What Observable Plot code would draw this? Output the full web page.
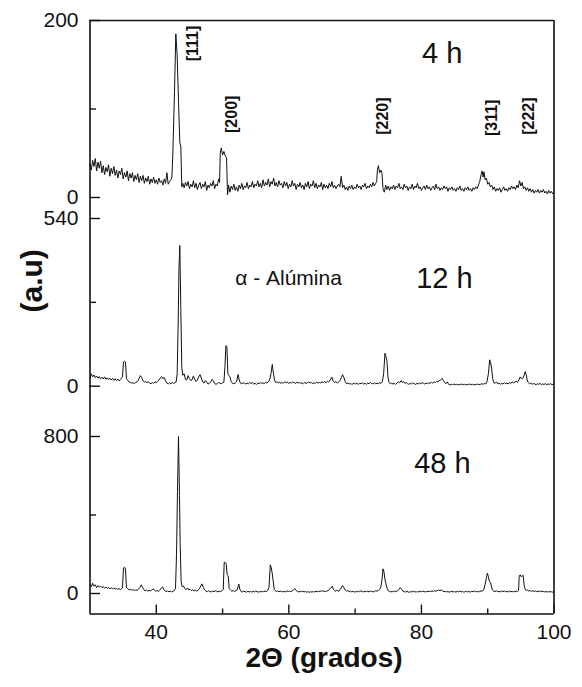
<!DOCTYPE html>
<html><head><meta charset="utf-8">
<script src="https://cdn.jsdelivr.net/npm/d3@7"></script>
<script src="https://cdn.jsdelivr.net/npm/@observablehq/plot@0.6"></script>
<style>
body{margin:0;background:#fff}
#chart svg{display:block}
g[aria-label="panel-label"] text{letter-spacing:3px}
g[aria-label="phase-label"] text{letter-spacing:2.5px}
g[aria-label="x-title"] text{letter-spacing:1.5px}
</style></head><body><div id="chart"></div>
<script>
// ---- data: [2theta, intensity (a.u.)] ----
const xrd4h = [
[30.0,38],[30.2,31],[30.4,42],[30.6,35],[30.8,44],[31.0,30],[31.2,40],[31.4,33],[31.6,41],[31.8,28],
[32.0,36],[32.2,26],[32.4,34],[32.6,29],[32.8,37],[33.0,24],[33.2,33],[33.4,27],[33.6,35],[33.8,25],
[34.0,31],[34.2,22],[34.4,30],[34.6,26],[34.8,33],[35.0,21],[35.2,28],[35.4,23],[35.6,30],[35.8,19],
[36.0,27],[36.2,22],[36.4,28],[36.6,18],[36.8,25],[37.0,20],[37.2,27],[37.4,17],[37.6,24],[37.8,19],
[38.0,25],[38.2,16],[38.4,22],[38.6,18],[38.8,24],[39.0,15],[39.2,21],[39.4,17],[39.6,23],[39.8,16],
[40.0,20],[40.2,15],[40.4,22],[40.6,17],[40.8,19],[41.0,14],[41.2,21],[41.4,16],[41.6,28],[41.8,15],
[42.0,18],[42.2,20],[42.35,22],[42.5,50],[42.75,120],[42.95,185],[43.15,160],[43.35,110],[43.55,62],[43.7,58],[43.85,12],
[44.0,16],[44.2,11],[44.4,17],[44.6,13],[44.8,18],[45.0,10],[45.2,15],[45.4,12],[45.6,19],[45.8,11],
[46.0,16],[46.2,9],[46.4,14],[46.6,17],[46.8,10],[47.0,15],[47.2,12],[47.4,18],[47.6,8],[47.8,14],
[48.0,11],[48.2,16],[48.4,13],[48.6,19],[48.8,10],[49.0,15],[49.2,13],[49.4,21],[49.55,17],
[49.65,50],[49.8,56],[50.0,48],[50.2,52],[50.4,47],[50.6,45],[50.75,3],
[50.9,14],[51.1,6],[51.3,13],[51.5,9],[51.7,15],[51.9,8],[52.1,12],[52.3,7],[52.5,14],[52.7,10],
[52.9,16],[53.1,9],[53.3,13],[53.5,11],[53.7,17],[53.9,10],[54.1,14],[54.3,12],[54.5,18],[54.7,11],
[54.9,15],[55.1,13],[55.3,19],[55.5,12],[55.7,16],[55.9,11],[56.1,20],[56.3,13],[56.5,17],[56.7,14],
[56.9,21],[57.1,12],[57.3,18],[57.5,15],[57.7,22],[57.9,13],[58.1,17],[58.3,12],[58.5,19],[58.7,14],
[58.9,16],[59.1,11],[59.3,18],[59.5,13],[59.7,17],[59.9,10],[60.1,15],[60.3,12],[60.5,19],[60.7,13],
[60.9,16],[61.1,9],[61.3,15],[61.5,12],[61.7,17],[61.9,11],[62.1,14],[62.3,9],[62.5,16],[62.7,12],
[62.9,18],[63.1,10],[63.3,15],[63.5,13],[63.7,19],[63.9,11],[64.1,16],[64.3,10],[64.5,14],[64.7,12],
[64.9,17],[65.1,9],[65.3,15],[65.5,11],[65.7,14],[65.9,10],[66.1,16],[66.3,12],[66.5,18],[66.7,11],
[66.9,14],[67.1,10],[67.3,13],[67.5,15],[67.7,12],[67.9,24],[68.1,11],[68.3,14],[68.5,9],[68.7,12],
[68.9,8],[69.1,13],[69.3,10],[69.5,14],[69.7,9],[69.9,12],[70.1,10],[70.3,15],[70.5,11],[70.7,13],
[70.9,9],[71.1,14],[71.3,12],[71.5,16],[71.7,10],[71.9,13],[72.1,11],[72.3,15],[72.5,12],[72.7,17],
[72.9,13],[73.1,16],[73.25,18],[73.35,30],[73.5,36],[73.7,28],[73.9,31],[74.05,27],[74.2,10],
[74.4,6],[74.6,14],[74.8,9],[75.0,13],[75.2,8],[75.4,12],[75.6,10],[75.8,14],[76.0,9],[76.2,13],
[76.4,11],[76.6,16],[76.8,10],[77.0,12],[77.2,9],[77.4,15],[77.6,11],[77.8,13],[78.0,8],[78.2,12],
[78.4,10],[78.6,15],[78.8,9],[79.0,13],[79.2,11],[79.4,16],[79.6,10],[79.8,12],[80.0,8],[80.2,11],
[80.4,13],[80.6,9],[80.8,14],[81.0,10],[81.2,12],[81.4,8],[81.6,11],[81.8,13],[82.0,9],[82.2,15],
[82.4,10],[82.6,12],[82.8,8],[83.0,11],[83.2,9],[83.4,13],[83.6,10],[83.8,12],[84.0,7],[84.2,11],
[84.4,9],[84.6,12],[84.8,8],[85.0,10],[85.2,7],[85.4,11],[85.6,9],[85.8,13],[86.0,8],[86.2,10],
[86.4,7],[86.6,11],[86.8,9],[87.0,12],[87.2,8],[87.4,10],[87.6,7],[87.8,11],[88.0,9],[88.2,12],
[88.4,10],[88.6,14],[88.8,18],[89.0,26],[89.15,30],[89.3,23],[89.45,29],[89.6,20],[89.8,22],[90.0,15],
[90.2,17],[90.4,12],[90.6,14],[90.8,9],[91.0,12],[91.2,7],[91.4,10],[91.6,8],[91.8,11],[92.0,6],
[92.2,9],[92.4,12],[92.6,8],[92.8,10],[93.0,7],[93.2,11],[93.4,9],[93.6,13],[93.8,10],[94.0,12],
[94.2,9],[94.4,14],[94.6,11],[94.8,19],[95.0,13],[95.2,17],[95.4,10],[95.6,12],[95.8,8],[96.0,11],
[96.2,7],[96.4,10],[96.6,6],[96.8,9],[97.0,5],[97.2,8],[97.4,6],[97.6,9],[97.8,5],[98.0,8],
[98.2,6],[98.4,9],[98.6,5],[98.8,7],[99.0,4],[99.2,8],[99.4,5],[99.6,7],[99.8,4],[100.0,6]
];

const xrd12h = [
[30.0,25],[30.2,40],[30.4,30],[30.6,36],[30.8,28],[31.0,33],[31.2,26],[31.4,31],[31.6,24],[31.8,29],
[32.0,23],[32.2,30],[32.4,22],[32.6,27],[32.8,21],[33.0,26],[33.2,20],[33.4,25],[33.6,19],[33.8,24],
[34.0,18],[34.2,23],[34.4,17],[34.6,22],[34.9,30],[35.05,78],[35.2,80],[35.35,78],[35.5,25],[35.7,18],
[35.9,14],[36.1,12],[36.3,10],[36.5,11],[36.7,9],[36.9,12],[37.1,14],[37.3,20],[37.6,34],[37.8,28],
[38.0,18],[38.2,13],[38.4,15],[38.6,11],[38.8,14],[39.0,10],[39.2,8],[39.4,12],[39.6,9],[39.8,14],
[40.0,11],[40.2,16],[40.4,20],[40.6,26],[40.8,31],[41.0,24],[41.2,28],[41.4,17],[41.6,10],[41.8,7],
[42.0,11],[42.2,8],[42.4,12],[42.6,9],[42.8,11],[43.0,14],[43.15,40],[43.3,200],[43.42,380],[43.55,453],
[43.7,250],[43.85,60],[44.0,35],[44.2,40],[44.4,22],[44.6,20],[44.8,34],[45.0,25],[45.2,18],[45.4,21],
[45.6,33],[45.8,22],[46.0,15],[46.2,20],[46.4,30],[46.6,37],[46.8,26],[47.0,14],[47.2,10],[47.4,18],
[47.6,13],[47.8,7],[48.0,9],[48.2,14],[48.4,22],[48.6,18],[48.8,9],[49.0,6],[49.2,8],[49.4,12],
[49.6,10],[49.8,8],[50.0,11],[50.2,13],[50.35,60],[50.5,131],[50.65,128],[50.8,40],[50.95,35],[51.1,30],
[51.3,15],[51.5,9],[51.7,8],[51.9,10],[52.1,14],[52.35,38],[52.5,20],[52.7,10],[52.9,8],[53.1,11],
[53.3,9],[53.5,7],[53.7,10],[53.9,8],[54.1,12],[54.3,9],[54.5,11],[54.7,7],[54.9,9],[55.1,6],
[55.3,10],[55.5,8],[55.7,12],[55.9,9],[56.1,11],[56.3,8],[56.5,13],[56.7,10],[56.9,14],[57.1,20],
[57.3,40],[57.5,70],[57.65,45],[57.85,18],[58.0,12],[58.2,15],[58.4,10],[58.6,13],[58.8,9],[59.0,12],
[59.2,10],[59.4,14],[59.6,11],[59.8,13],[60.0,9],[60.2,12],[60.4,10],[60.6,14],[60.8,11],[61.0,9],
[61.2,13],[61.4,10],[61.6,12],[61.8,9],[62.0,11],[62.2,8],[62.4,12],[62.6,9],[62.8,11],[63.0,14],
[63.2,10],[63.4,12],[63.6,8],[63.8,11],[64.0,9],[64.2,13],[64.4,10],[64.6,12],[64.8,11],[65.0,14],
[65.2,12],[65.4,15],[65.6,11],[65.8,16],[66.0,14],[66.2,18],[66.5,29],[66.7,16],[66.9,12],[67.1,15],
[67.3,10],[67.5,13],[67.7,18],[67.9,27],[68.1,37],[68.3,28],[68.5,15],[68.7,8],[68.9,10],[69.1,7],
[69.3,9],[69.5,6],[69.7,8],[69.9,10],[70.1,7],[70.3,9],[70.5,6],[70.7,10],[70.9,8],[71.1,11],
[71.3,7],[71.5,9],[71.7,6],[71.9,10],[72.1,8],[72.3,12],[72.5,9],[72.7,7],[72.9,11],[73.1,8],
[73.3,10],[73.5,7],[73.7,12],[73.9,9],[74.1,14],[74.3,40],[74.5,106],[74.65,95],[74.8,80],[74.95,30],
[75.1,12],[75.3,8],[75.5,10],[75.7,7],[75.9,9],[76.1,6],[76.3,10],[76.5,14],[76.7,11],[76.95,18],
[77.1,12],[77.3,15],[77.5,9],[77.7,12],[77.9,8],[78.1,6],[78.3,9],[78.5,7],[78.7,11],[78.9,8],
[79.1,6],[79.3,9],[79.5,7],[79.7,10],[79.9,8],[80.1,12],[80.3,9],[80.5,7],[80.7,10],[80.9,8],
[81.1,11],[81.3,9],[81.5,13],[81.7,10],[81.9,14],[82.1,12],[82.3,16],[82.5,14],[82.7,18],[82.9,20],
[83.15,25],[83.3,19],[83.5,12],[83.7,8],[83.9,14],[84.1,6],[84.3,4],[84.5,6],[84.7,5],[84.9,7],
[85.1,5],[85.3,6],[85.5,4],[85.7,6],[85.9,5],[86.1,7],[86.3,5],[86.5,6],[86.7,4],[86.9,6],
[87.1,5],[87.3,7],[87.5,5],[87.7,6],[87.9,4],[88.1,6],[88.3,5],[88.5,7],[88.7,5],[88.9,6],
[89.1,8],[89.3,6],[89.5,9],[89.7,7],[89.9,15],[90.1,40],[90.3,85],[90.45,75],[90.6,55],[90.75,25],
[90.9,12],[91.1,9],[91.3,14],[91.5,8],[91.7,10],[91.9,6],[92.1,9],[92.3,7],[92.5,11],[92.7,8],
[92.9,10],[93.1,7],[93.3,12],[93.5,9],[93.7,14],[93.9,11],[94.1,13],[94.3,16],[94.5,12],[94.7,20],
[94.9,30],[95.1,24],[95.3,26],[95.5,35],[95.65,47],[95.8,38],[95.95,20],[96.1,12],[96.3,8],[96.5,10],
[96.7,6],[96.9,9],[97.1,7],[97.3,5],[97.5,8],[97.7,6],[97.9,9],[98.1,5],[98.3,7],[98.5,6],
[98.7,8],[98.9,5],[99.1,7],[99.3,6],[99.5,8],[99.7,5],[99.9,7],[100.0,6]
];

const xrd48h = [
[30.0,45],[30.2,35],[30.4,52],[30.6,38],[30.8,44],[31.0,30],[31.2,40],[31.4,33],[31.6,37],[31.8,30],
[32.0,34],[32.2,28],[32.4,33],[32.6,27],[32.8,30],[33.0,25],[33.2,29],[33.4,24],[33.6,28],[33.8,22],
[34.0,26],[34.2,21],[34.4,25],[34.6,20],[34.9,28],[35.05,130],[35.2,134],[35.35,125],[35.5,30],[35.7,24],
[35.9,18],[36.1,22],[36.3,17],[36.5,20],[36.7,15],[36.9,19],[37.1,16],[37.3,22],[37.5,30],[37.75,44],
[37.95,30],[38.1,20],[38.3,14],[38.5,18],[38.7,12],[38.9,16],[39.1,13],[39.3,17],[39.5,24],[39.7,18],
[39.9,12],[40.1,15],[40.3,11],[40.5,16],[40.7,24],[40.95,34],[41.1,22],[41.3,14],[41.5,10],[41.7,13],
[41.9,9],[42.1,12],[42.3,8],[42.5,11],[42.7,14],[42.9,25],[43.05,200],[43.2,520],[43.35,800],[43.5,500],
[43.6,255],[43.75,60],[43.9,35],[44.1,38],[44.3,25],[44.5,20],[44.7,28],[44.9,18],[45.1,22],[45.3,15],
[45.5,19],[45.7,13],[45.9,17],[46.1,12],[46.3,16],[46.5,25],[46.7,38],[46.9,49],[47.1,30],[47.3,18],
[47.5,12],[47.7,9],[47.9,14],[48.1,10],[48.3,8],[48.5,12],[48.7,9],[48.9,14],[49.1,11],[49.3,8],
[49.5,12],[49.7,10],[49.9,14],[50.1,20],[50.25,160],[50.4,158],[50.55,150],[50.7,95],[50.85,90],[51.0,25],
[51.2,18],[51.4,12],[51.6,15],[51.8,10],[52.0,14],[52.2,18],[52.45,48],[52.6,22],[52.8,10],[53.0,8],
[53.2,12],[53.4,9],[53.6,7],[53.8,11],[54.0,8],[54.2,10],[54.4,7],[54.6,11],[54.8,8],[55.0,12],
[55.2,9],[55.4,7],[55.6,10],[55.8,8],[56.0,11],[56.2,9],[56.4,12],[56.6,10],[56.8,15],[57.0,30],
[57.2,146],[57.35,130],[57.5,100],[57.65,60],[57.8,20],[57.95,14],[58.1,10],[58.3,13],[58.5,9],[58.7,12],
[58.9,10],[59.1,8],[59.3,11],[59.5,9],[59.7,13],[59.9,10],[60.1,12],[60.3,9],[60.5,14],[60.7,18],
[60.9,25],[61.1,15],[61.3,10],[61.5,8],[61.7,11],[61.9,9],[62.1,12],[62.3,8],[62.5,10],[62.7,7],
[62.9,9],[63.1,6],[63.3,9],[63.5,7],[63.7,10],[63.9,8],[64.1,11],[64.3,9],[64.5,12],[64.7,10],
[64.9,14],[65.1,11],[65.3,13],[65.5,10],[65.7,12],[65.9,15],[66.1,20],[66.3,28],[66.55,37],[66.7,22],
[66.9,15],[67.1,11],[67.3,18],[67.5,10],[67.7,20],[67.9,28],[68.1,41],[68.3,30],[68.5,18],[68.7,12],
[68.9,15],[69.1,9],[69.3,12],[69.5,8],[69.7,11],[69.9,7],[70.1,10],[70.3,8],[70.5,12],[70.7,9],
[70.9,14],[71.1,10],[71.3,8],[71.5,12],[71.7,9],[71.9,11],[72.1,8],[72.3,13],[72.5,10],[72.7,8],
[72.9,11],[73.1,14],[73.3,12],[73.5,16],[73.7,20],[73.9,35],[74.05,70],[74.2,126],[74.35,110],[74.5,70],
[74.65,50],[74.8,28],[75.0,14],[75.2,10],[75.4,8],[75.6,11],[75.8,9],[76.0,13],[76.2,10],[76.4,14],
[76.6,20],[76.8,30],[77.0,22],[77.2,12],[77.4,10],[77.6,7],[77.8,11],[78.0,8],[78.2,6],[78.4,10],
[78.6,8],[78.8,12],[79.0,9],[79.2,7],[79.4,10],[79.6,8],[79.8,11],[80.0,9],[80.2,12],[80.4,10],
[80.6,8],[80.8,11],[81.0,9],[81.2,12],[81.4,10],[81.6,13],[81.8,11],[82.0,14],[82.2,12],[82.4,15],
[82.6,18],[82.8,14],[83.0,19],[83.2,12],[83.4,9],[83.6,11],[83.8,8],[84.0,10],[84.2,7],[84.4,9],
[84.6,11],[84.8,8],[85.0,10],[85.2,7],[85.4,11],[85.6,9],[85.8,12],[86.0,8],[86.2,10],[86.4,7],
[86.6,9],[86.8,12],[87.0,8],[87.2,10],[87.4,7],[87.6,11],[87.8,9],[88.0,13],[88.2,10],[88.4,8],
[88.6,12],[88.8,9],[89.0,14],[89.2,12],[89.4,20],[89.6,45],[89.8,80],[89.95,104],[90.1,85],[90.25,62],
[90.4,58],[90.55,40],[90.7,18],[90.9,12],[91.1,10],[91.3,14],[91.5,9],[91.7,11],[91.9,8],[92.1,12],
[92.3,10],[92.5,13],[92.7,9],[92.9,11],[93.1,8],[93.3,12],[93.5,10],[93.7,9],[93.9,11],[94.1,8],
[94.3,12],[94.5,10],[94.65,14],[94.75,88],[94.9,95],[95.05,85],[95.2,90],[95.35,92],[95.5,40],[95.65,22],
[95.8,15],[96.0,18],[96.2,12],[96.4,16],[96.6,10],[96.8,14],[97.0,11],[97.2,13],[97.4,9],[97.6,12],
[97.8,10],[98.0,13],[98.2,9],[98.4,11],[98.6,8],[98.8,10],[99.0,7],[99.2,10],[99.4,8],[99.6,9],
[99.8,7],[100.0,8]
];

const panelNames = ["4 h", "12 h", "48 h"];
const yMax = [200, 540, 800];
const xTicksMajor = [40, 60, 80, 100];
const xTicksMinor = [50, 70, 90];
const hklLabels = ["[111]", "[200]", "[220]", "[311]", "[222]"];
const phaseLabel = "\u03b1 - Al\u00famina";
const xTitle = "2\u0398 (grados)";
const yTitle = "(a.u)";

// ---- layout ----
const W = 582, ML = 89.5, MR = 28.5;
const xDomain = [30, 100];
const pxPerX = (W - ML - MR) / (xDomain[1] - xDomain[0]);
const FONT = "'Liberation Sans', Arial, Helvetica, sans-serif";
const INK = "#111";

function makePanel({series, max, height, marginTop, marginBottom, zeroPx, maxPx, extra, showX}) {
  const s = (zeroPx - maxPx) / max;                // px per unit
  const yDomain = [(zeroPx - (height - marginBottom)) / s, (zeroPx - marginTop) / s];
  const marks = [
    Plot.line(series, {x: d => d[0], y: d => d[1], stroke: INK, strokeWidth: 1}),
    Plot.ruleX(xDomain, {stroke: INK, strokeWidth: 1.6}),
    Plot.ruleY([0, max], {x1: xDomain[0], x2: xDomain[0] + 10.5 / pxPerX, stroke: INK, strokeWidth: 1.4}),
    Plot.ruleY([max / 2], {x1: xDomain[0], x2: xDomain[0] + 6.5 / pxPerX, stroke: INK, strokeWidth: 1.4}),
    Plot.axisY({ticks: [0, max], tickSize: 0, tickPadding: 11.5, fontSize: 21, label: null, tickFormat: d => String(d)}),
    ...extra(s, yDomain)
  ];
  return Plot.plot({
    width: W, height, marginLeft: ML, marginRight: MR, marginTop, marginBottom,
    x: showX ? {domain: xDomain} : {domain: xDomain, axis: null},
    y: {domain: yDomain},
    style: {fontFamily: FONT, background: "white", color: INK, overflow: "visible"},
    marks
  });
}

const p1 = makePanel({
  series: xrd4h, max: yMax[0], height: 208, marginTop: 20, marginBottom: 0, zeroPx: 197, maxPx: 20,
  extra: (s) => [
    Plot.ruleY([yMax[0]], {stroke: INK, strokeWidth: 1.6}),
    Plot.text([panelNames[0]], {text: d => d, x: 80.1, y: 162, textAnchor: "start", fontSize: 29, ariaLabel: "panel-label", fill: INK}),
    Plot.text([hklLabels[0]], {text: d => d, x: 45.46, y: 174, rotate: -90, fontSize: 16, fontWeight: "bold", fill: INK}),
    Plot.text([hklLabels[1]], {text: d => d, x: 51.42, y: 94, rotate: -90, fontSize: 16, fontWeight: "bold", fill: INK}),
    Plot.text([hklLabels[2]], {text: d => d, x: 74.12, y: 92, rotate: -90, fontSize: 16, fontWeight: "bold", fill: INK}),
    Plot.text([hklLabels[3]], {text: d => d, x: 90.56, y: 90, rotate: -90, fontSize: 16, fontWeight: "bold", fill: INK}),
    Plot.text([hklLabels[4]], {text: d => d, x: 96.14, y: 92, rotate: -90, fontSize: 16, fontWeight: "bold", fill: INK})
  ]
});

const p2 = makePanel({
  series: xrd12h, max: yMax[1], height: 202, marginTop: 0, marginBottom: 0, zeroPx: 177.7, maxPx: 10,
  extra: (s) => [
    Plot.text([panelNames[1]], {text: d => d, x: 79.2, y: 345, textAnchor: "start", fontSize: 29, ariaLabel: "panel-label", fill: INK}),
    Plot.text([phaseLabel], {text: d => d, x: 51.9, y: 346, textAnchor: "start", fontSize: 21, ariaLabel: "phase-label", fill: INK}),
    Plot.text([yTitle], {text: d => d, frameAnchor: "left", rotate: -90, dx: -57.5, dy: 3, fontSize: 30, fontWeight: "bold", fill: INK})
  ]
});

const p3 = makePanel({
  series: xrd48h, max: yMax[2], height: 277, marginTop: 0, marginBottom: 73.5, zeroPx: 183, maxPx: 26, showX: true,
  extra: (s, yDomain) => [
    Plot.ruleY([yDomain[0]], {stroke: INK, strokeWidth: 1.6}),
    Plot.ruleX(xTicksMajor, {y1: yDomain[0], y2: yDomain[0] + 9 / s, stroke: INK, strokeWidth: 1.4}),
    Plot.ruleX(xTicksMinor, {y1: yDomain[0], y2: yDomain[0] + 5 / s, stroke: INK, strokeWidth: 1.4}),
    Plot.axisX({ticks: xTicksMajor, tickSize: 0, tickPadding: 10.5, fontSize: 21, label: null}),
    Plot.text([panelNames[2]], {text: d => d, x: 78.9, y: 659, textAnchor: "start", fontSize: 29, ariaLabel: "panel-label", fill: INK}),
    Plot.text([xTitle], {text: d => d, frameAnchor: "bottom", dy: 53, dx: 2, fontSize: 28, fontWeight: "bold", ariaLabel: "x-title", fill: INK})
  ]
});

const chart = document.getElementById("chart");
chart.append(p1, p2, p3);
</script>
</body></html>
